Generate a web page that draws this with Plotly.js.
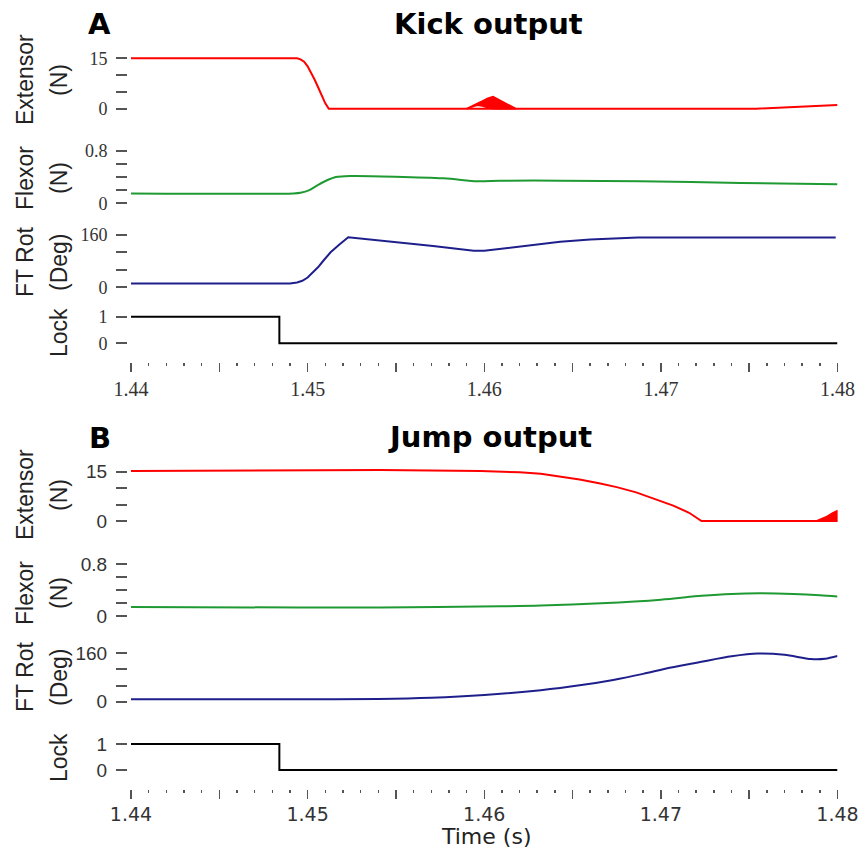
<!DOCTYPE html>
<html>
<head>
<meta charset="utf-8">
<script src="https://cdn.plot.ly/plotly-3.0.1.min.js"></script>
<style>html,body{margin:0;padding:0;background:#fff;}#chart{width:861px;height:854px;}</style>
</head>
<body>
<div id="chart"></div>
<script>
// ---------------- DATA ----------------
// Panel A : Kick output
const kickExtT   = [1.4400, 1.4480, 1.4490, 1.4494, 1.4496, 1.4498, 1.4500, 1.4502, 1.4504, 1.4506, 1.4508, 1.4510, 1.4512, 1.4590, 1.4754, 1.4800];
const kickExtV   = [15.0,   15.1,   15.1,   15.0,   14.7,   14.0,   12.6,   10.7,   8.6,    6.3,    3.8,    1.6,    0.0,    0.0,    0.0,    1.1];
const kickBumpT  = [1.4590, 1.4593, 1.4596, 1.4599, 1.4602, 1.4605, 1.4609, 1.4613, 1.4618];
const kickBumpHi = [0.0,    0.9,    1.6,    2.3,    3.1,    3.6,    2.5,    1.2,    0.0];
const kickBumpLo = [0.0,    0.6,    1.0,    0.8,    0.3,    0.0,    0.0,    0.0,    0.0];
const kickFlxT   = [1.4400, 1.4492, 1.4496, 1.4501, 1.4506, 1.4511, 1.4516, 1.4524, 1.4577, 1.4596, 1.4609, 1.4643, 1.4688, 1.4745, 1.4800];
const kickFlxV   = [0.15,   0.15,   0.16,   0.20,   0.28,   0.35,   0.40,   0.415,  0.38,   0.335,  0.344,  0.344,  0.335,  0.31,   0.29];
const kickRotT   = [1.4400, 1.4490, 1.4494, 1.4497, 1.4500, 1.4503, 1.4506, 1.4509, 1.4513, 1.4518, 1.4523, 1.4571, 1.4594, 1.4600, 1.4615, 1.4630, 1.4643, 1.4660, 1.4687, 1.4799];
const kickRotV   = [12,     12,     15,     20,     30,     45,     62,     82,     107,    131,    153,    126,    112,    112,    122,    131,    139,    146,    152,    152];
const kickLockT  = [1.4400, 1.4484, 1.4800];
const kickLockV  = [1,      0,      0];

// Panel B : Jump output
const jumpExtT   = [1.4400, 1.4480, 1.4541, 1.4598, 1.4610, 1.4620, 1.4632, 1.4643, 1.4654, 1.4665, 1.4675, 1.4686, 1.4696, 1.4707, 1.4716, 1.4723, 1.4788, 1.4800];
const jumpExtV   = [15.2,   15.3,   15.5,   15.2,   15.0,   14.8,   14.4,   13.6,   12.6,   11.5,   10.3,   8.7,    6.9,    4.7,    2.5,    0.0,    0.0,    0.0];
const jumpBumpT  = [1.4788, 1.4791, 1.4794, 1.4797, 1.4800];
const jumpBumpHi = [0.0,    0.6,    1.4,    2.4,    3.2];
const jumpBumpLo = [0.0,    0.0,    0.0,    0.0,    0.0];
const jumpFlxT   = [1.4400, 1.4496, 1.4541, 1.4609, 1.4632, 1.4666, 1.4700, 1.4723, 1.4740, 1.4756, 1.4775, 1.4790, 1.4800];
const jumpFlxV   = [0.14,   0.13,   0.13,   0.15,   0.16,   0.195,  0.25,   0.31,   0.34,   0.35,   0.34,   0.32,   0.30];
const jumpRotT   = [1.4400, 1.4500, 1.4540, 1.4570, 1.4600, 1.4632, 1.4655, 1.4673, 1.4690, 1.4705, 1.4723, 1.4740, 1.4755, 1.4770, 1.4785, 1.4793, 1.4800];
const jumpRotV   = [8,      8,      9,      13,     22,     38,     55,     72,     92,     112,    132,    150,    159,    155,    141,    142,    151];
const jumpLockT  = [1.4400, 1.4484, 1.4800];
const jumpLockV  = [1,      0,      0];

// Tick labels
const xTickVals = [1.44, 1.445, 1.45, 1.455, 1.46, 1.465, 1.47, 1.475, 1.48];
const xTickText = ['1.44', '', '1.45', '', '1.46', '', '1.47', '', '1.48'];
const extTickVals = [0, 15],   extTickText = ['0', '15'],   extMinor = [5, 10];
const flxTickVals = [0, 0.8],  flxTickText = ['0', '0.8'],  flxMinor = [0.2, 0.4, 0.6];
const rotTickVals = [0, 160],  rotTickText = ['0', '160'],  rotMinor = [160/3, 320/3];
const lckTickVals = [0, 1],    lckTickText = ['0', '1'];

// Labels
const panelLetters = ['A', 'B'];
const panelTitles  = ['Kick output', 'Jump output'];
const rowLabels1   = ['Extensor', 'Flexor', 'FT Rot', ''];
const rowLabels2   = ['(N)', '(N)', '(Deg)', 'Lock'];
const xTitle       = 'Time (s)';

// ---------------- LAYOUT HELPERS ----------------
const W = 861, H = 854;
const RED = '#ff0000', GREEN = '#1f9a33', BLUE = '#1f1f8c', BLACK = '#000000';
const TICKC = '#555555';
function yDom(pxHi, pxLo, vHi, vLo, rLo, rHi) {
  const s = (pxLo - pxHi) / (vHi - vLo);
  const top = pxHi - (rHi - vHi) * s;
  const bot = pxLo + (vLo - rLo) * s;
  return [1 - bot / H, 1 - top / H];
}
const xDomain = [131 / W, 837.5 / W];
const yAxisPos = 127 / W;

function line(x, y, color, xa, ya, shape) {
  const l = {color: color, width: 2, shape: shape || 'linear'};
  if (shape === 'spline') l.smoothing = 0.8;
  return {x: x, y: y, xaxis: xa, yaxis: ya, type: 'scatter', mode: 'lines',
          line: l, hoverinfo: 'skip', showlegend: false};
}
function bump(t, hi, lo, xa, ya) {
  const x = t.concat(t.slice().reverse());
  const y = hi.concat(lo.slice().reverse());
  return {x: x, y: y, xaxis: xa, yaxis: ya, type: 'scatter', mode: 'lines', fill: 'toself',
          fillcolor: RED, line: {color: RED, width: 1.5}, hoverinfo: 'skip', showlegend: false};
}

const traces = [
  line(kickExtT, kickExtV, RED, 'x', 'y'),
  bump(kickBumpT, kickBumpHi, kickBumpLo, 'x', 'y'),
  line(kickFlxT, kickFlxV, GREEN, 'x', 'y2', 'spline'),
  line(kickRotT, kickRotV, BLUE, 'x', 'y3'),
  line(kickLockT, kickLockV, BLACK, 'x', 'y4', 'hv'),
  line(jumpExtT, jumpExtV, RED, 'x2', 'y5'),
  bump(jumpBumpT, jumpBumpHi, jumpBumpLo, 'x2', 'y5'),
  line(jumpFlxT, jumpFlxV, GREEN, 'x2', 'y6', 'spline'),
  line(jumpRotT, jumpRotV, BLUE, 'x2', 'y7', 'spline'),
  line(jumpLockT, jumpLockV, BLACK, 'x2', 'y8', 'hv')
];

const serifTick = {family: 'Liberation Serif', size: 18, color: '#333'};
const sansTick  = {family: 'Liberation Sans', size: 19, color: '#333'};

function yAxis(dom, range, vals, text, minor, font) {
  const a = {domain: dom, range: range, anchor: 'free', position: yAxisPos,
    tickmode: 'array', tickvals: vals, ticktext: text, ticks: 'outside', ticklen: 11, tickwidth: 2,
    tickcolor: TICKC, tickfont: font, ticklabelstandoff: 5,
    showline: false, showgrid: false, zeroline: false, fixedrange: true};
  if (minor) a.minor = {tickmode: 'array', tickvals: minor, ticks: 'outside', ticklen: 11, tickwidth: 2, tickcolor: TICKC, showgrid: false};
  return a;
}
function xAxis(posPx, font) {
  return {domain: xDomain, range: [1.44, 1.48], anchor: 'free', position: 1 - posPx / H,
    tickmode: 'array', tickvals: xTickVals, ticktext: xTickText, ticks: 'outside', ticklen: 9, tickwidth: 1.5,
    tickcolor: TICKC, tickfont: font, showline: false, showgrid: false, zeroline: false, fixedrange: true,
    minor: {tickmode: 'linear', tick0: 1.44, dtick: 0.001, ticks: 'outside', ticklen: 3.5, tickwidth: 1.5, tickcolor: TICKC, showgrid: false}};
}

const layout = {
  width: W, height: H, margin: {l: 0, r: 0, t: 0, b: 0},
  paper_bgcolor: '#fff', plot_bgcolor: 'rgba(0,0,0,0)', showlegend: false,
  xaxis:  xAxis(361.7, {family: 'Liberation Serif', size: 20, color: '#333'}),
  xaxis2: xAxis(788.5, {family: 'DejaVu Sans', size: 19, color: '#333'}),
  yaxis:  yAxis(yDom(58.3, 108.7, 15, 0, -1.5, 17), [-1.5, 17], extTickVals, extTickText, extMinor, serifTick),
  yaxis2: yAxis(yDom(150.7, 203.3, 0.8, 0, -0.06, 0.86), [-0.06, 0.86], flxTickVals, flxTickText, flxMinor, serifTick),
  yaxis3: yAxis(yDom(235, 287.3, 160, 0, -12, 172), [-12, 172], rotTickVals, rotTickText, rotMinor, serifTick),
  yaxis4: yAxis(yDom(316.7, 343.3, 1, 0, -0.25, 1.25), [-0.25, 1.25], lckTickVals, lckTickText, null, serifTick),
  yaxis5: yAxis(yDom(471.7, 521, 15, 0, -1.5, 17), [-1.5, 17], extTickVals, extTickText, extMinor, sansTick),
  yaxis6: yAxis(yDom(564, 616, 0.8, 0, -0.06, 0.86), [-0.06, 0.86], flxTickVals, flxTickText, flxMinor, sansTick),
  yaxis7: yAxis(yDom(653.3, 701.7, 160, 0, -12, 172), [-12, 172], rotTickVals, rotTickText, rotMinor, sansTick),
  yaxis8: yAxis(yDom(744, 770, 1, 0, -0.25, 1.25), [-0.25, 1.25], lckTickVals, lckTickText, null, sansTick),
  annotations: []
};

function ann(text, xPx, yPx, font, angle) {
  layout.annotations.push({text: text, xref: 'paper', yref: 'paper', x: xPx / W, y: 1 - yPx / H,
    xanchor: 'center', yanchor: 'middle', showarrow: false, font: font, textangle: angle || 0});
}
const boldF = {family: 'DejaVu Sans', size: 29, color: '#000', weight: 'bold'};
const labF  = {family: 'Liberation Sans', size: 23, color: '#222'};
// panel letters and titles
ann(panelLetters[0], 99, 24, boldF);
ann(panelTitles[0], 488, 24, boldF);
ann(panelLetters[1], 100, 438, boldF);
ann(panelTitles[1], 490, 437, boldF);
// row labels
const rowCentersA = [80, 178, 262, 333];
const rowCentersB = [495, 593, 677, 758];
[rowCentersA, rowCentersB].forEach(function (centers) {
  for (let i = 0; i < 4; i++) {
    if (rowLabels1[i]) ann(rowLabels1[i], 25, centers[i], labF, -90);
    ann(rowLabels2[i], 59, centers[i], labF, -90);
  }
});
ann(xTitle, 486, 836, {family: 'DejaVu Sans', size: 22, color: '#222'});

Plotly.newPlot('chart', traces, layout, {displayModeBar: false, staticPlot: true});
</script>
</body>
</html>
